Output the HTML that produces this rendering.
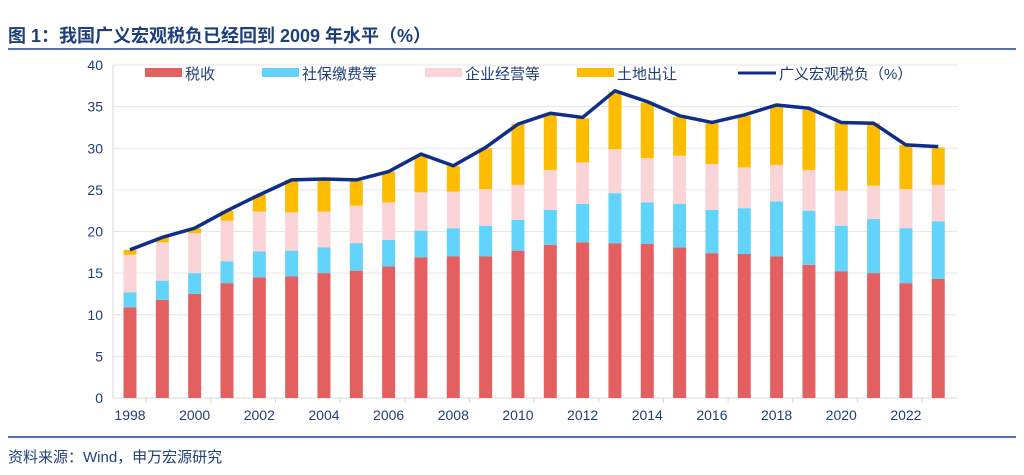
<!DOCTYPE html>
<html><head><meta charset="utf-8">
<style>
body{margin:0;width:1024px;height:470px;background:#fff;overflow:hidden;font-family:"Liberation Sans","Noto Sans CJK SC",sans-serif}
</style></head>
<body>
<svg width="1024" height="470" xmlns="http://www.w3.org/2000/svg">
<text x="8" y="42" font-size="18" font-weight="bold" fill="#1f3f7a" font-family="Liberation Sans, Noto Sans CJK SC, sans-serif">图 1：我国广义宏观税负已经回到 2009 年水平（%）</text>
<line x1="8" y1="49" x2="1016" y2="49" stroke="#1f3f9a" stroke-width="1.5"/>
<line x1="8" y1="437" x2="1016" y2="437" stroke="#1f3f9a" stroke-width="1.5"/>
<text x="8" y="462" font-size="15" fill="#1f3f7a" font-family="Liberation Sans, Noto Sans CJK SC, sans-serif">资料来源：Wind，申万宏源研究</text>
<g id="plot"></g>
<g id="legend"></g>
</svg>
<script>
const years=[1998,1999,2000,2001,2002,2003,2004,2005,2006,2007,2008,2009,2010,2011,2012,2013,2014,2015,2016,2017,2018,2019,2020,2021,2022,2023];
const taxes=[10.9,11.8,12.5,13.8,14.5,14.6,15.0,15.3,15.8,16.9,17.0,17.0,17.7,18.4,18.7,18.6,18.5,18.1,17.4,17.3,17.0,16.0,15.2,15.0,13.8,14.3];
const social=[1.8,2.3,2.5,2.6,3.1,3.1,3.1,3.3,3.2,3.2,3.4,3.7,3.7,4.2,4.6,6.0,5.0,5.2,5.2,5.5,6.6,6.5,5.5,6.5,6.6,6.9];
const business=[4.5,4.6,4.8,4.9,4.8,4.6,4.3,4.5,4.5,4.6,4.4,4.4,4.2,4.8,5.0,5.3,5.3,5.8,5.5,4.9,4.4,4.9,4.2,4.0,4.7,4.4];
const land=[0.6,0.6,0.6,1.2,2.0,3.9,3.8,3.0,3.7,4.4,3.1,4.9,7.3,6.6,5.3,6.9,6.7,4.7,4.9,6.2,7.0,7.2,8.2,7.5,5.3,4.5];
const burden=[17.8,19.3,20.4,22.5,24.4,26.2,26.3,26.2,27.2,29.3,27.9,30.1,32.9,34.2,33.7,36.9,35.6,33.9,33.1,34.0,35.2,34.8,33.1,33.0,30.4,30.2];
const yTicks=[0,5,10,15,20,25,30,35,40];
const seriesNames=["税收","社保缴费等","企业经营等","土地出让"];
const colors=["#e46060","#62d3fa","#fad4d6","#fcbd00"];
const NS="http://www.w3.org/2000/svg";
const plot=document.getElementById('plot'),legend=document.getElementById('legend');
const x0=113,x1=958,y0=398,yTop=65,step=32.33,first=130;
const xS=i=>first+i*step;
const yS=v=>y0-(v/40)*(y0-yTop);
function mk(tag,attrs,parent){const e=document.createElementNS(NS,tag);for(const k in attrs)e.setAttribute(k,attrs[k]);parent.appendChild(e);return e;}
yTicks.forEach(t=>{
  if(t>0){const g=mk('line',{x1:x0,x2:x1,y1:yS(t),y2:yS(t),stroke:'#e6e6e6','stroke-width':1},plot);
  
  }
  const tx=mk('text',{x:103,y:yS(t)+5,'text-anchor':'end','font-size':14,fill:'#1f3f7a'},plot);
  tx.textContent=t;
  
  
});
const ya=mk('line',{x1:x0,x2:x0,y1:yTop,y2:y0,stroke:'#d9d9d9'},plot);


const xa=mk('line',{x1:x0,x2:x1,y1:y0,y2:y0,stroke:'#d9d9d9'},plot);


const all=[taxes,social,business,land];
years.forEach((yr,i)=>{
  let base=0;
  all.forEach((s,k)=>{
    const r=mk('rect',{x:xS(i)-6.5,width:13,y:yS(base+s[i]),height:yS(base)-yS(base+s[i]),fill:colors[k]},plot);
    
    
    base+=s[i];
  });
  if(i%2===0){
    const t=mk('text',{x:xS(i),y:420,'text-anchor':'middle','font-size':14,fill:'#1f3f7a'},plot);
    t.textContent=yr;
    
    
    const tk=mk('line',{x1:xS(i)+step/2,x2:xS(i)+step/2,y1:y0,y2:y0+5,stroke:'#d9d9d9'},plot);
    
    
  }
});
const pl=mk('polyline',{points:burden.map((v,i)=>xS(i)+','+yS(v)).join(' '),fill:'none',stroke:'#0f2e8a','stroke-width':3.5,'stroke-linejoin':'round'},plot);


const lx=[145,262,425,577];
seriesNames.forEach((n,k)=>{
  const r=mk('rect',{x:lx[k],y:68,width:37,height:9,fill:colors[k]},legend);
  
  
  const t=mk('text',{x:lx[k]+40,y:79,'font-size':15,fill:'#1f3f7a'},legend);
  t.textContent=n;
  
  
});
const ll=mk('line',{x1:738,x2:776,y1:73,y2:73,stroke:'#0f2e8a','stroke-width':3},legend);


const lt=mk('text',{x:779,y:79,'font-size':15,fill:'#1f3f7a'},legend);
lt.textContent="广义宏观税负（%）";


</script>
</body></html>
